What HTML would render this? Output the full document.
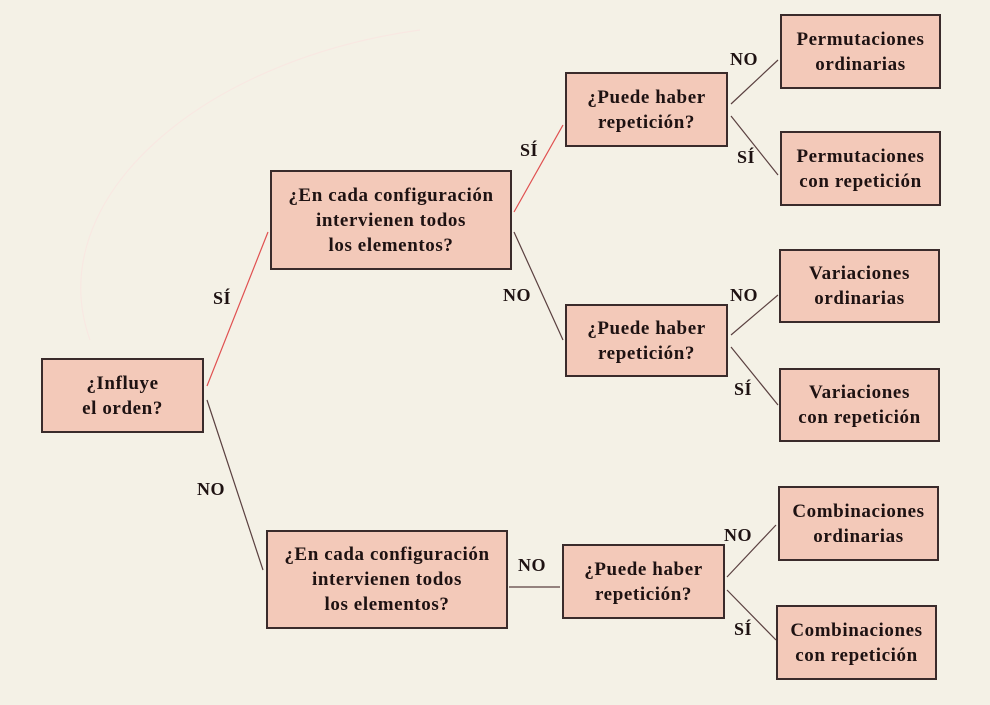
<!DOCTYPE html>
<html><head><meta charset="utf-8"><style>
body{margin:0;width:990px;height:705px;background:#f4f1e6;position:relative;overflow:hidden;font-family:"Liberation Serif",serif;font-weight:bold;color:#1e1212}
.b{position:absolute;background:#f3c9b9;border:2px solid #3a2b2b;box-sizing:border-box;display:flex;align-items:center;justify-content:center;text-align:center;font-size:19px;line-height:25px;letter-spacing:0.6px;white-space:nowrap}
.l{position:absolute;font-size:18px;letter-spacing:0.5px}
svg{position:absolute;left:0;top:0}
</style></head><body>
<svg width="990" height="705">
<path d="M90 340 C40 200 200 60 420 30" stroke="#f8e8e2" fill="none" stroke-width="1.2"/>
<g stroke="#5a4040" stroke-width="1.2" fill="none">
<line x1="207" y1="386" x2="268" y2="232" stroke="#e05050"/>
<line x1="207" y1="400" x2="263" y2="570"/>
<line x1="514" y1="212" x2="563" y2="125" stroke="#e05050"/>
<line x1="514" y1="232" x2="563" y2="340"/>
<line x1="509" y1="587" x2="560" y2="587"/>
<line x1="731" y1="104" x2="778" y2="60"/>
<line x1="731" y1="116" x2="778" y2="175"/>
<line x1="731" y1="335" x2="778" y2="295"/>
<line x1="731" y1="347" x2="778" y2="405"/>
<line x1="727" y1="577" x2="776" y2="525"/>
<line x1="727" y1="590" x2="776" y2="640"/>
</g></svg>
<div class="b" style="left:41px;top:358px;width:163px;height:75px">¿Influye<br>el orden?</div>
<div class="b" style="left:270px;top:170px;width:242px;height:100px">¿En cada configuración<br>intervienen todos<br>los elementos?</div>
<div class="b" style="left:266px;top:530px;width:242px;height:99px">¿En cada configuración<br>intervienen todos<br>los elementos?</div>
<div class="b" style="left:565px;top:72px;width:163px;height:75px">¿Puede haber<br>repetición?</div>
<div class="b" style="left:565px;top:304px;width:163px;height:73px">¿Puede haber<br>repetición?</div>
<div class="b" style="left:562px;top:544px;width:163px;height:75px">¿Puede haber<br>repetición?</div>
<div class="b" style="left:780px;top:14px;width:161px;height:75px">Permutaciones<br>ordinarias</div>
<div class="b" style="left:780px;top:131px;width:161px;height:75px">Permutaciones<br>con repetición</div>
<div class="b" style="left:779px;top:249px;width:161px;height:74px">Variaciones<br>ordinarias</div>
<div class="b" style="left:779px;top:368px;width:161px;height:74px">Variaciones<br>con repetición</div>
<div class="b" style="left:778px;top:486px;width:161px;height:75px">Combinaciones<br>ordinarias</div>
<div class="b" style="left:776px;top:605px;width:161px;height:75px">Combinaciones<br>con repetición</div>
<div class="l" style="left:213px;top:288px">SÍ</div>
<div class="l" style="left:197px;top:479px">NO</div>
<div class="l" style="left:520px;top:140px">SÍ</div>
<div class="l" style="left:503px;top:285px">NO</div>
<div class="l" style="left:518px;top:555px">NO</div>
<div class="l" style="left:730px;top:49px">NO</div>
<div class="l" style="left:737px;top:147px">SÍ</div>
<div class="l" style="left:730px;top:285px">NO</div>
<div class="l" style="left:734px;top:379px">SÍ</div>
<div class="l" style="left:724px;top:525px">NO</div>
<div class="l" style="left:734px;top:619px">SÍ</div>
</body></html>
